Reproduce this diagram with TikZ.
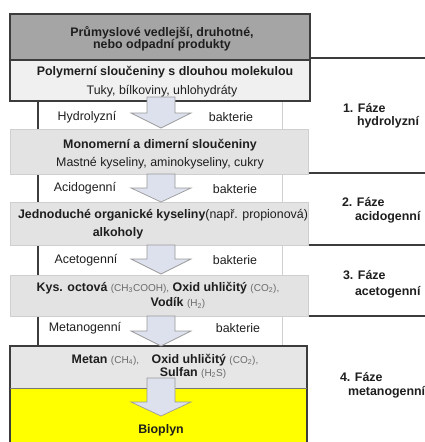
\documentclass[tikz,border=0pt]{standalone}
\usepackage{fontspec}
\setmainfont{Liberation Sans}
\definecolor{darkfill}{HTML}{A5A5A5}
\definecolor{polyfill}{HTML}{F0F0F0}
\definecolor{grayfill}{HTML}{E3E3E3}
\definecolor{grayedge}{HTML}{CFCFCF}
\definecolor{metanfill}{HTML}{E6E6E6}
\definecolor{bioyellow}{HTML}{FFFF00}
\definecolor{arrowfill}{HTML}{DDE1EE}
\definecolor{arrowedge}{HTML}{9A9A9A}
\definecolor{darkline}{HTML}{3C3C3C}
\definecolor{txt}{HTML}{1E1E1E}
\definecolor{formtxt}{HTML}{6A6A6A}
\newcommand{\frm}[1]{{\fontsize{10}{11}\selectfont\color{formtxt}#1}}
\newcommand{\blockarrow}[4]{%
  \draw[barrow] (#1-14,#2) -- (#1+14,#2) -- (#1+14,#3) -- (#1+30,#3) -- (#1,#4)
    -- (#1-30,#3) -- (#1-14,#3) -- cycle;}
\begin{document}
\begin{tikzpicture}[x=1pt,y=-1pt,
  every node/.style={inner sep=0pt, outer sep=0pt, text=txt},
  mainbox/.style={draw=darkline, line width=1.6pt, anchor=north west},
  graybox/.style={draw=grayedge, fill=grayfill, line width=0.6pt, anchor=north west},
  stripbox/.style={draw=grayedge, fill=white, line width=0.6pt, anchor=north west},
  barrow/.style={draw=arrowedge, fill=arrowfill, line width=0.7pt},
  phaseline/.style={draw=darkline, line width=1.5pt},
  lbl/.style={font=\fontsize{12.4}{12.5}\selectfont},
  blbl/.style={font=\fontsize{12.4}{12.5}\selectfont\bfseries},
  phase/.style={font=\fontsize{12.4}{12.5}\selectfont\bfseries, anchor=west}
]
\useasboundingbox (0,0) rectangle (425,442);
\fill[white] (0,0) rectangle (425,442);

% phase separator lines
\coordinate (p1a) at (310,58);  \coordinate (p1b) at (425,58);
\coordinate (p2a) at (282,173); \coordinate (p2b) at (425,173);
\coordinate (p3a) at (308,245); \coordinate (p3b) at (425,245);
\coordinate (p4a) at (308,316); \coordinate (p4b) at (425,316);
\draw[phaseline] (p1a) -- (p1b);
\draw[phaseline] (p2a) -- (p2b);
\draw[phaseline] (p3a) -- (p3b);
\draw[phaseline] (p4a) -- (p4b);

% label strips
\node[stripbox, minimum width=244pt, minimum height=28pt] (s1) at (38,101) {};
\node[stripbox, minimum width=244pt, minimum height=28pt] (s2) at (38,174) {};
\node[stripbox, minimum width=244pt, minimum height=30pt] (s3) at (38,245) {};
\node[stripbox, minimum width=244pt, minimum height=30pt] (s4) at (38,316) {};
\foreach \s in {s1,s2,s3,s4}{\draw[darkline, line width=1.2pt] (\s.north west) -- (\s.south west);}

% gray boxes
\node[graybox, minimum width=298pt, minimum height=45pt] (mono) at (10,129) {};
\node[graybox, minimum width=298pt, minimum height=43pt] (jedn) at (10,202) {};
\node[graybox, minimum width=298pt, minimum height=41pt] (kys) at (10,275) {};

% top boxes
\node[mainbox, fill=darkfill, minimum width=300pt, minimum height=46pt] (top) at (10,14) {};
\node[mainbox, fill=polyfill, minimum width=300pt, minimum height=41pt] (poly) at (10,60) {};

% bottom box
\fill[metanfill] (10,346) rectangle (307,388);
\fill[bioyellow] (10,388) rectangle (307,442);
\node[anchor=north west, minimum width=297pt, minimum height=96pt] (metan) at (10,346) {};
\draw[darkline, line width=1.4pt] (metan.south west) -- (metan.north west) -- (metan.north east) -- (metan.south east);
\draw[darkline!70, line width=0.6pt] (10,388) -- (307,388);

% block arrows
\blockarrow{161}{97}{113}{128}
\blockarrow{161}{174}{188}{202}
\blockarrow{161}{245}{259}{274}
\blockarrow{161}{316}{331}{346}
\blockarrow{161}{378}{402}{416}

% texts
\node[blbl, align=center] (t1) at (162,39) {Průmyslové vedlejší, druhotné,\\nebo odpadní produkty};
\node[blbl] (t2) at (165,72) {Polymerní sloučeniny s dlouhou molekulou};
\node[lbl] (t3) at (162,91) {Tuky, bílkoviny, uhlohydráty};

\node[lbl] (h1) at (87,117) {Hydrolyzní};
\node[lbl] (b1) at (231,117) {bakterie};

\node[blbl] (t4) at (160,145) {Monomerní a dimerní sloučeniny};
\node[lbl] (t5) at (160,163) {Mastné kyseliny, aminokyseliny, cukry};

\node[lbl] (h2) at (85,188) {Acidogenní};
\node[lbl] (b2) at (235,189) {bakterie};

\node[lbl, anchor=west] (t6) at (18,215) {\textbf{Jednoduché organické kyseliny}(např. propionová)};
\node[blbl] (t7) at (118,233) {alkoholy};

\node[lbl] (h3) at (86,260) {Acetogenní};
\node[lbl] (b3) at (235,260) {bakterie};

\node[lbl] (t8) at (158,288) {\textbf{Kys. octová} \frm{(CH\textsubscript{3}COOH),} \textbf{Oxid uhličitý} \frm{(CO\textsubscript{2}),}};
\node[lbl] (t9) at (178,303) {\textbf{Vodík} \frm{(H\textsubscript{2})}};

\node[lbl] (h4) at (85,328) {Metanogenní};
\node[lbl] (b4) at (238,328) {bakterie};

\node[lbl] (t10) at (165,360) {\textbf{Metan} \frm{(CH\textsubscript{4}),}\quad\textbf{Oxid uhličitý} \frm{(CO\textsubscript{2}),}};
\node[lbl] (t11) at (193,373) {\textbf{Sulfan} \frm{(H\textsubscript{2}S)}};

\node[blbl] (t12) at (161,430) {Bioplyn};

% phase labels
\node[phase] (f1a) at (343,108) {1. Fáze};
\node[phase] (f1b) at (357,122) {hydrolyzní};
\node[phase] (f2a) at (342,202) {2. Fáze};
\node[phase] (f2b) at (355,217) {acidogenní};
\node[phase] (f3a) at (343,275) {3. Fáze};
\node[phase] (f3b) at (355,292) {acetogenní};
\node[phase] (f4a) at (340,377) {4. Fáze};
\node[phase] (f4b) at (348,392) {metanogenní};
\end{tikzpicture}
\end{document}
